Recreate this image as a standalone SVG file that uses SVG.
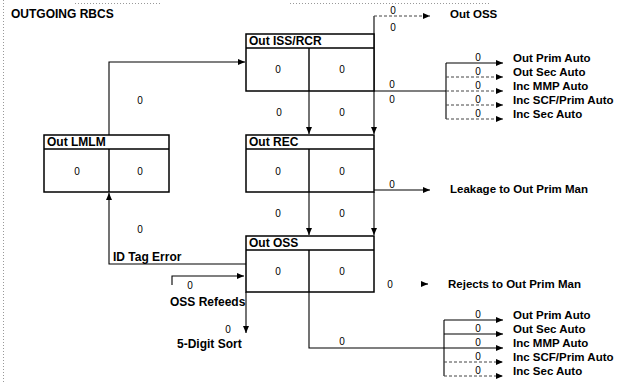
<svg xmlns="http://www.w3.org/2000/svg" width="630" height="383" viewBox="0 0 630 383">
<defs>
<marker id="arr" markerUnits="userSpaceOnUse" markerWidth="7" markerHeight="6" refX="7" refY="3" orient="auto">
<path d="M0,0 L7,3 L0,6 z" fill="#000"/>
</marker>
<style>
.box{fill:#fff;stroke:#000;stroke-width:1.5}
.sep{fill:none;stroke:#000;stroke-width:1.4}
.ln{fill:none;stroke:#000;stroke-width:1.1}
.lt{fill:none;stroke:#444;stroke-width:1;stroke-dasharray:3 2}
.brd{fill:none;stroke:#999;stroke-width:1;stroke-dasharray:1 2}
.hd{font-family:"Liberation Sans",Arial,sans-serif;font-weight:bold;font-size:12px;fill:#000}
.lb{font-family:"Liberation Sans",Arial,sans-serif;font-weight:bold;font-size:11.5px;fill:#000}
.z{font-family:"Liberation Sans",Arial,sans-serif;font-size:10px;fill:#000;text-anchor:middle}
</style>
</defs>
<rect width="630" height="383" fill="#fff"/>
<path class="brd" d="M3.5,0 V383 M75,3.5 H160 M290,3.5 H490"/>
<text class="hd" x="11" y="18">OUTGOING RBCS</text>

<g id="connectors">
<path class="ln" d="M109,135 V62 H245" marker-end="url(#arr)"/>
<path class="ln" d="M309,91 V134" marker-end="url(#arr)"/>
<path class="ln" d="M374,16 V134" marker-end="url(#arr)"/>
<path class="lt" d="M374,16 H430" marker-end="url(#arr)"/>
<path class="ln" d="M309,192 V235" marker-end="url(#arr)"/>
<path class="ln" d="M374,192 V235" marker-end="url(#arr)"/>
<path class="ln" d="M374,190 H430" marker-end="url(#arr)"/>
<path class="ln" d="M374,91 H446 M446,63 V119"/>
<path class="ln" d="M446,63 H503" marker-end="url(#arr)"/>
<path class="lt" d="M446,77 H503" marker-end="url(#arr)"/>
<path class="lt" d="M446,91 H503" marker-end="url(#arr)"/>
<path class="lt" d="M446,105 H503" marker-end="url(#arr)"/>
<path class="lt" d="M446,119 H503" marker-end="url(#arr)"/>
<path class="ln" d="M246,264 H109 V193" marker-end="url(#arr)"/>
<path class="ln" d="M172,285 V276 H244" marker-end="url(#arr)"/>
<path class="ln" d="M246,292 V333" marker-end="url(#arr)"/>
<path class="ln" d="M421,284 H428" marker-end="url(#arr)"/>
<path class="ln" d="M309,292 V348 H444 M444,320 V376"/>
<path class="ln" d="M444,320 H503" marker-end="url(#arr)"/>
<path class="ln" d="M444,334 H503" marker-end="url(#arr)"/>
<path class="ln" d="M444,348 H503" marker-end="url(#arr)"/>
<path class="lt" d="M444,362 H503" marker-end="url(#arr)"/>
<path class="lt" d="M444,376 H503" marker-end="url(#arr)"/>

<text class="z" x="393" y="14">0</text>
<text class="z" x="393" y="31">0</text>
<text class="lb" x="450" y="18">Out OSS</text>
<text class="z" x="392" y="88">0</text>
<text class="z" x="392" y="103">0</text>
<text class="z" x="478" y="61">0</text>
<text class="z" x="478" y="75">0</text>
<text class="z" x="478" y="89">0</text>
<text class="z" x="478" y="103">0</text>
<text class="z" x="478" y="117">0</text>
<text class="lb" x="513" y="62">Out Prim Auto</text>
<text class="lb" x="513" y="76">Out Sec Auto</text>
<text class="lb" x="513" y="90">Inc MMP Auto</text>
<text class="lb" x="513" y="104">Inc SCF/Prim Auto</text>
<text class="lb" x="513" y="118">Inc Sec Auto</text>
<text class="z" x="140" y="104">0</text>
<text class="z" x="279" y="116">0</text>
<text class="z" x="342" y="116">0</text>
<text class="z" x="392" y="188">0</text>
<text class="lb" x="450" y="193">Leakage to Out Prim Man</text>
<text class="z" x="278" y="217">0</text>
<text class="z" x="342" y="217">0</text>
<text class="z" x="140" y="233">0</text>
<text class="hd" x="113" y="261">ID Tag Error</text>
<text class="z" x="190" y="289">0</text>
<text class="hd" x="170" y="306">OSS Refeeds</text>
<text class="z" x="390" y="288">0</text>
<text class="lb" x="448" y="288">Rejects to Out Prim Man</text>
<text class="z" x="228" y="333">0</text>
<text class="hd" x="177" y="348">5-Digit Sort</text>
<text class="z" x="342" y="345">0</text>
<text class="z" x="478" y="318">0</text>
<text class="z" x="478" y="332">0</text>
<text class="z" x="478" y="346">0</text>
<text class="z" x="478" y="360">0</text>
<text class="z" x="478" y="374">0</text>
<text class="lb" x="513" y="319">Out Prim Auto</text>
<text class="lb" x="513" y="333">Out Sec Auto</text>
<text class="lb" x="513" y="347">Inc MMP Auto</text>
<text class="lb" x="513" y="361">Inc SCF/Prim Auto</text>
<text class="lb" x="513" y="375">Inc Sec Auto</text>
</g>

<g id="out-iss-rcr">
<rect class="box" x="246" y="34" width="128" height="57"/>
<path class="sep" d="M246,48 H374 M309,48 V91"/>
<text class="hd" x="249" y="45">Out ISS/RCR</text>
<text class="z" x="278" y="73">0</text>
<text class="z" x="342" y="73">0</text>
</g>

<g id="out-lmlm">
<rect class="box" x="44" y="135" width="125" height="57"/>
<path class="sep" d="M44,149 H169 M109,149 V192"/>
<text class="hd" x="47" y="146">Out LMLM</text>
<text class="z" x="77" y="175">0</text>
<text class="z" x="140" y="175">0</text>
</g>

<g id="out-rec">
<rect class="box" x="246" y="135" width="128" height="57"/>
<path class="sep" d="M246,149 H374 M309,149 V192"/>
<text class="hd" x="249" y="146">Out REC</text>
<text class="z" x="278" y="175">0</text>
<text class="z" x="342" y="175">0</text>
</g>

<g id="out-oss">
<rect class="box" x="246" y="236" width="128" height="56"/>
<path class="sep" d="M246,250 H374 M309,250 V292"/>
<text class="hd" x="249" y="247">Out OSS</text>
<text class="z" x="278" y="275">0</text>
<text class="z" x="342" y="275">0</text>
</g>
</svg>
